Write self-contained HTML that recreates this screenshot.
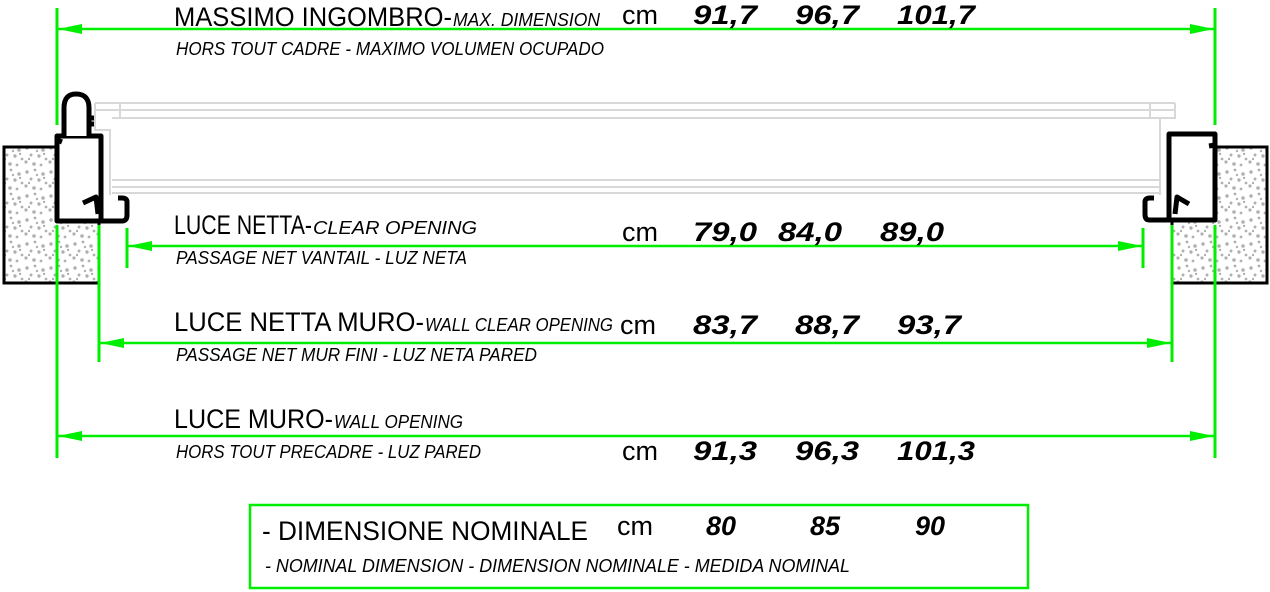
<!DOCTYPE html>
<html><head><meta charset="utf-8"><style>
html,body{margin:0;padding:0;background:#fff;width:1270px;height:592px;overflow:hidden}
svg{display:block}
text{font-family:"Liberation Sans",sans-serif;fill:#000}
.b{font-size:27px}
.i{font-size:18px;font-style:italic}
.n{font-size:27px;font-weight:bold;font-style:italic}
</style></head><body>
<svg width="1270" height="592" viewBox="0 0 1270 592" xmlns="http://www.w3.org/2000/svg">
<defs>
<pattern id="sp" width="24" height="24" patternUnits="userSpaceOnUse">
<rect width="24" height="24" fill="#fff"/>
<g fill="#b0b0b0">
<circle cx="3" cy="4" r="1.7"/><circle cx="11" cy="2" r="1.4"/><circle cx="19" cy="6" r="1.8"/>
<circle cx="7" cy="11" r="1.5"/><circle cx="15" cy="12" r="1.7"/><circle cx="22" cy="15" r="1.4"/>
<circle cx="2" cy="18" r="1.6"/><circle cx="10" cy="20" r="1.8"/><circle cx="17" cy="21" r="1.4"/>
<circle cx="13" cy="7" r="1.2"/><circle cx="5" cy="15" r="1.2"/><circle cx="20" cy="10" r="1.2"/>
</g></pattern>
<marker id="a" viewBox="0 0 24 10" refX="24" refY="5" markerWidth="24" markerHeight="10" markerUnits="userSpaceOnUse" orient="auto-start-reverse">
<path d="M24,5 L0,0 L0,10 Z" fill="#00ee00"/></marker>
</defs>

<rect x="4" y="147" width="95" height="136" fill="url(#sp)" stroke="#000" stroke-width="3"/>
<rect x="1172" y="147" width="95" height="136" fill="url(#sp)" stroke="#000" stroke-width="3"/>

<g stroke="#d8d8d8" stroke-width="2" fill="none">
<path d="M95,103 H1175 M95,110 H1175 M112,118 H1160 M112,180 H1160 M112,187 H1160 M112,193 H1160"/>
<path d="M95,103 V130 H110 V195 M1175,103 V118 H1160 V195 M120,103 V118 M1150,103 V118"/>
</g>

<g stroke="#000" stroke-width="5" fill="none" stroke-linejoin="round">
<rect x="57" y="136" width="44" height="85" fill="#fff"/>
<path d="M101,210 V221 H122 Q127,221 127,215 V202 Q127,198 122,198 H118"/>
<path d="M83,203 L96,197 L98,214"/>
<path d="M64,136 V108 Q64,94 76,94 Q89,94 89,108 V136" fill="#fff"/>
<path d="M89,118 H94 M89,124 H94"/>
<path d="M57,140 L62,142"/>
</g>
<g stroke="#000" stroke-width="5" fill="none" stroke-linejoin="round">
<rect x="1169" y="134" width="46" height="86" fill="#fff"/>
<path d="M1169,220 H1149 Q1145,220 1145,214 V202 Q1145,198 1150,198 H1154"/>
<path d="M1189,204 L1177,197 L1175,214"/>
<path d="M1215,145 L1209,146"/>
</g>

<g stroke="#00ee00" stroke-width="3" fill="none">
<path d="M57,8 V125 M1215,8 V125"/>
<path d="M127,228 V268 M1143,228 V268"/>
<path d="M99,225 V362 M1172,225 V362"/>
<path d="M57,225 V458 M1215,225 V458"/>
</g>
<g stroke="#00ee00" stroke-width="2.5">
<line x1="58" y1="29" x2="1214" y2="29" marker-start="url(#a)" marker-end="url(#a)"/>
<line x1="128" y1="246" x2="1142" y2="246" marker-start="url(#a)" marker-end="url(#a)"/>
<line x1="100" y1="343" x2="1171" y2="343" marker-start="url(#a)" marker-end="url(#a)"/>
<line x1="58" y1="436" x2="1214" y2="436" marker-start="url(#a)" marker-end="url(#a)"/>
</g>
<rect x="250" y="505" width="778" height="83" fill="none" stroke="#00ee00" stroke-width="2.5"/>

<text class="b" x="174" y="26" textLength="278" lengthAdjust="spacingAndGlyphs">MASSIMO INGOMBRO-</text>
<text class="i" x="453" y="26" textLength="147" lengthAdjust="spacingAndGlyphs">MAX. DIMENSION</text>
<text class="i" x="176" y="55" textLength="428" lengthAdjust="spacingAndGlyphs">HORS TOUT CADRE - MAXIMO VOLUMEN OCUPADO</text>
<text class="b" x="622" y="24" textLength="36" lengthAdjust="spacingAndGlyphs">cm</text>
<text class="n" x="693" y="24" textLength="64" lengthAdjust="spacingAndGlyphs">91,7</text><text class="n" x="795" y="24" textLength="64" lengthAdjust="spacingAndGlyphs">96,7</text><text class="n" x="897" y="24" textLength="78" lengthAdjust="spacingAndGlyphs">101,7</text>

<text class="b" x="174" y="234" textLength="138" lengthAdjust="spacingAndGlyphs">LUCE NETTA-</text>
<text class="i" x="313" y="234" textLength="164" lengthAdjust="spacingAndGlyphs">CLEAR OPENING</text>
<text class="i" x="176" y="264" textLength="291" lengthAdjust="spacingAndGlyphs">PASSAGE NET VANTAIL - LUZ NETA</text>
<text class="b" x="622" y="241" textLength="36" lengthAdjust="spacingAndGlyphs">cm</text>
<text class="n" x="693" y="241" textLength="64" lengthAdjust="spacingAndGlyphs">79,0</text><text class="n" x="778" y="241" textLength="64" lengthAdjust="spacingAndGlyphs">84,0</text><text class="n" x="880" y="241" textLength="64" lengthAdjust="spacingAndGlyphs">89,0</text>

<text class="b" x="174" y="331" textLength="250" lengthAdjust="spacingAndGlyphs">LUCE NETTA MURO-</text>
<text class="i" x="425" y="331" textLength="188" lengthAdjust="spacingAndGlyphs">WALL CLEAR OPENING</text>
<text class="i" x="176" y="361" textLength="361" lengthAdjust="spacingAndGlyphs">PASSAGE NET MUR FINI - LUZ NETA PARED</text>
<text class="b" x="620" y="334" textLength="36" lengthAdjust="spacingAndGlyphs">cm</text>
<text class="n" x="693" y="334" textLength="64" lengthAdjust="spacingAndGlyphs">83,7</text><text class="n" x="795" y="334" textLength="64" lengthAdjust="spacingAndGlyphs">88,7</text><text class="n" x="897" y="334" textLength="64" lengthAdjust="spacingAndGlyphs">93,7</text>

<text class="b" x="174" y="428" textLength="159" lengthAdjust="spacingAndGlyphs">LUCE MURO-</text>
<text class="i" x="334" y="428" textLength="129" lengthAdjust="spacingAndGlyphs">WALL OPENING</text>
<text class="i" x="176" y="458" textLength="305" lengthAdjust="spacingAndGlyphs">HORS TOUT PRECADRE - LUZ PARED</text>
<text class="b" x="622" y="460" textLength="36" lengthAdjust="spacingAndGlyphs">cm</text>
<text class="n" x="693" y="460" textLength="64" lengthAdjust="spacingAndGlyphs">91,3</text><text class="n" x="795" y="460" textLength="64" lengthAdjust="spacingAndGlyphs">96,3</text><text class="n" x="897" y="460" textLength="78" lengthAdjust="spacingAndGlyphs">101,3</text>

<text class="b" x="262" y="540" textLength="326" lengthAdjust="spacingAndGlyphs">- DIMENSIONE NOMINALE</text>
<text class="b" x="617" y="535" textLength="36" lengthAdjust="spacingAndGlyphs">cm</text>
<text class="n" x="706" y="535">80</text><text class="n" x="810" y="535">85</text><text class="n" x="915" y="535">90</text>
<text class="i" x="265" y="572" textLength="585" lengthAdjust="spacingAndGlyphs">- NOMINAL DIMENSION  - DIMENSION NOMINALE - MEDIDA NOMINAL</text>
</svg>
</body></html>
